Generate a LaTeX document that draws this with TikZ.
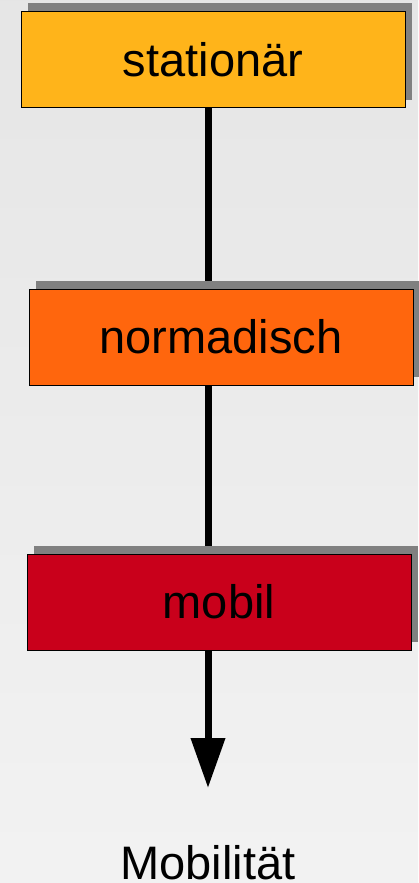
\documentclass[tikz,border=0pt]{standalone}
\usepackage{xcolor}
\usepackage{tikz}
\usepackage{fontspec}
\setmainfont{Liberation Sans}
\usetikzlibrary{calc,shadows,backgrounds}
\usetikzlibrary{arrows.meta}

\definecolor{statcol}{HTML}{FFB41A}
\definecolor{nomcol}{HTML}{FF660D}
\definecolor{mobcol}{HTML}{C9001B}
\definecolor{shadowgray}{HTML}{808080}

\tikzset{
    stufe/.style={draw=black, line width=0.8pt, minimum width=384pt, minimum height=96pt,
        inner sep=0pt, font=\fontsize{47}{56}\selectfont,
        drop shadow={shadow xshift=7pt, shadow yshift=8pt, fill=shadowgray, opacity=1}},
    achse/.style={line width=7pt, -{Triangle[width=33pt,length=50pt]}}
}

\begin{document}
\begin{tikzpicture}[x=1pt,y=-1pt]
            \useasboundingbox (0,0) rectangle (418,883);
            \node[stufe, fill=statcol] at (213,59.5) (stat) {stationär};
            \node[stufe, fill=nomcol] at (221,337) (nomad) {normadisch};
            \node[stufe, fill=mobcol] at (219,602) (mob) {mobil};
            \coordinate (tip) at (208,788);
            \node[anchor=base, font=\fontsize{47}{56}\selectfont] at (208,879) (mobil) {Mobilität};
            \begin{scope}[on background layer]
                \shade[top color=black!10, bottom color=black!5] (0,0) rectangle (418,883);
                \draw[achse] (stat.south -| tip) -- (tip);
            \end{scope}
        \end{tikzpicture}
\end{document}
